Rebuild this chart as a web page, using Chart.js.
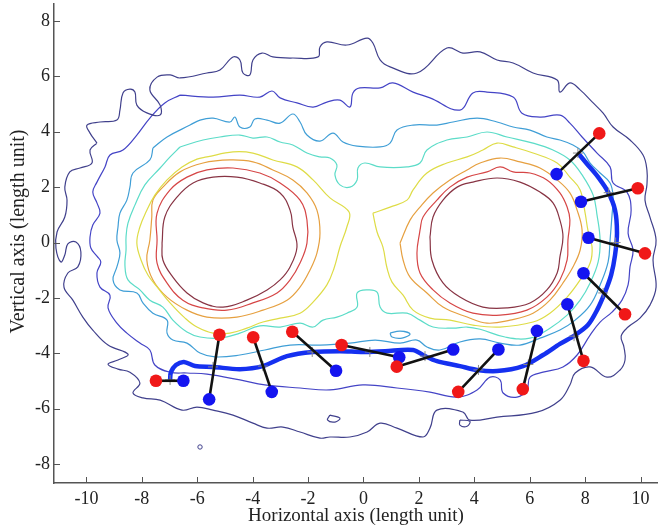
<!DOCTYPE html>
<html>
<head>
<meta charset="utf-8">
<script src="https://cdn.jsdelivr.net/npm/chart.js@4.4.1/dist/chart.umd.min.js"></script>
<style>
  html, body { margin: 0; padding: 0; background: #fff; }
  canvas { display: block; }
</style>
</head>
<body>
<canvas id="chart" width="658" height="529"></canvas>
<script>
const xTicks = [-10, -8, -6, -4, -2, 0, 2, 4, 6, 8, 10]
const yTicks = [-8, -6, -4, -2, 0, 2, 4, 6, 8]

// red / blue dot pairs, same index = joined by a black bar
const redDots = [[-7.49,-4.99],[-5.2,-3.33],[-3.98,-3.42],[-2.57,-3.22],[-0.79,-3.7],[1.2,-4.48],
  [3.42,-5.39],[5.75,-5.29],[7.94,-4.27],[9.44,-2.59],[10.16,-0.39],[9.9,1.96],[8.51,3.94]]
const blueDots = [[-6.5,-4.99],[-5.57,-5.66],[-3.31,-5.39],[-0.99,-4.63],[1.29,-4.14],[3.24,-3.86],
  [4.87,-3.86],[6.26,-3.19],[7.36,-2.23],[7.94,-1.11],[8.12,0.17],[7.85,1.47],[6.97,2.47]]

// thick blue path
const pathPts = [[-6.98,-4.96],[-6.95,-4.68],[-6.77,-4.42],[-6.48,-4.31],[-6.08,-4.46],[-5.43,-4.49],
  [-4.46,-4.57],[-3.63,-4.46],[-2.76,-4.1],[-1.82,-3.95],[-0.85,-3.92],[-0.02,-3.95],[0.78,-3.92],
  [1.79,-3.88],[2.22,-4.1],[2.65,-4.28],[3.48,-4.46],[4.1,-4.6],[4.82,-4.64],[5.76,-4.46],[6.48,-4.06],
  [7.09,-3.66],[7.64,-3.34],[8.1,-2.98],[8.43,-2.44],[8.72,-1.79],[8.94,-1.17],[9.08,-0.45],[9.15,0.34],
  [9.08,1.17],[8.83,1.82],[8.47,2.36],[8.1,2.8],[7.74,3.23]]

// small grey crosses on the path
const crossPts = [[-6.98,-4.96],[-5.43,-4.49],[-3.63,-4.46],[-1.85,-3.95],[0.23,-3.95],[2.22,-4.1],
  [4.15,-4.6],[5.95,-4.4],[7.6,-3.38],[8.65,-1.82],[9.1,0.0],[8.85,1.8],[7.74,3.23]]

// contour levels (outer to inner)
const level1 = [[-9.62,3.59],[-9.87,3.95],[-9.98,4.24],[-9.51,4.35],[-8.9,4.42],[-8.79,4.78],[-8.68,5.4],
  [-8.43,5.54],[-8.25,5.43],[-8.18,4.96],[-7.82,4.68],[-7.34,4.6],[-7.34,4.96],[-7.71,5.51],[-7.45,5.97],
  [-6.98,6.05],[-6.62,5.94],[-5.65,6.12],[-5.18,6.23],[-4.71,6.7],[-4.46,6.59],[-4.35,6.12],[-4.1,6.05],
  [-3.99,6.59],[-3.66,6.84],[-3.27,6.7],[-2.55,6.66],[-1.64,6.7],[-1.57,7.06],[-1.32,7.24],[-0.6,7.13],
  [0.13,7.38],[0.34,7.2],[0.6,6.59],[0.96,6.34],[1.93,6.12],[3.01,7.02],[3.59,6.84],[4.21,6.88],[4.82,6.59],
  [5.4,6.48],[6.12,6.12],[6.99,5.87],[7.09,5.43],[7.45,5.76],[7.82,5.51],[8.29,5.04],[8.65,4.67],[9.01,4.17],
  [9.62,3.7],[10.09,3.16],[10.23,2.62],[10.23,2.08],[10.16,1.53],[10.34,0.92],[10.56,0.09],[10.45,-0.63],
  [10.56,-1.61],[10.34,-2.26],[9.98,-2.73],[9.55,-3.05],[9.3,-3.38],[9.4,-3.77],[9.44,-4.24],[9.26,-4.6],
  [8.79,-4.86],[8.18,-4.49],[7.64,-4.71],[7.45,-5.14],[7.09,-5.69],[6.26,-6.12],[4.82,-6.3],[3.84,-6.41],
  [3.59,-6.12],[2.65,-6.05],[2.4,-6.7],[2.15,-7.02],[1.21,-6.7],[0.6,-6.52],[0.13,-6.84],[-0.49,-7.02],
  [-1.21,-7.02],[-1.57,-7.06],[-2.29,-6.84],[-2.91,-6.66],[-3.48,-6.7],[-3.99,-6.52],[-4.71,-6.23],
  [-5.43,-6.05],[-6.01,-5.94],[-6.55,-6.05],[-7.34,-5.69],[-7.96,-5.61],[-8.32,-5.43],[-8.07,-5.07],
  [-8.43,-4.68],[-8.86,-4.57],[-9.22,-4.39],[-8.86,-4.24],[-8.5,-4.03],[-9.22,-3.7],[-9.77,-3.16],
  [-10.13,-2.69],[-10.49,-2.08],[-10.81,-1.61],[-10.67,-1.1],[-10.31,-0.88],[-10.2,-0.34],[-10.38,0.02],
  [-10.67,-0.05],[-10.78,-0.45],[-10.92,-0.7],[-11.1,-0.2],[-11.06,0.38],[-10.78,0.92],[-10.7,1.53],
  [-10.78,2.0],[-10.6,2.55],[-10.23,2.69],[-9.8,2.87],[-9.87,3.34]]

const level2 = [[-6.62,5.32],[-7.17,5.04],[-7.71,4.49],[-8.18,3.88],[-8.68,3.34],[-9.15,3.16],[-9.33,2.73],
  [-9.62,2.18],[-9.77,1.82],[-9.62,1.43],[-9.51,1.06],[-9.77,0.63],[-9.87,0.2],[-9.84,-0.2],[-9.62,-0.49],
  [-9.48,-0.7],[-9.62,-1.1],[-9.51,-1.61],[-9.15,-1.9],[-9.22,-2.36],[-8.9,-2.91],[-8.54,-3.27],[-8.07,-3.63],
  [-7.71,-3.88],[-7.53,-4.42],[-6.98,-4.68],[-6.37,-4.71],[-5.65,-4.75],[-4.46,-4.96],[-3.56,-5.14],
  [-2.29,-5.25],[-1.21,-5.32],[-0.02,-5.14],[1.21,-5.25],[2.4,-5.4],[3.38,-5.58],[4.1,-5.32],[4.57,-4.86],
  [4.93,-4.96],[5.04,-5.43],[5.54,-5.58],[5.9,-5.32],[6.01,-4.86],[6.48,-4.68],[7.2,-4.49],[7.71,-4.06],
  [8.18,-3.34],[8.54,-2.87],[8.97,-2.51],[9.33,-2.08],[9.55,-1.53],[9.62,-0.88],[9.73,-0.27],[9.55,0.34],
  [9.66,1.17],[9.51,1.82],[9.01,2.15],[8.9,2.73],[8.43,3.23],[7.89,3.81],[7.45,4.31],[7.09,4.6],[6.37,4.53],
  [5.72,4.67],[5.4,5.25],[4.46,5.43],[3.95,5.4],[3.48,4.78],[2.4,5.22],[1.79,5.43],[1.06,5.76],[0.6,5.58],
  [-0.13,5.58],[-0.38,5.4],[-0.49,4.89],[-0.85,5.14],[-1.32,5.07],[-1.82,4.89],[-2.4,5.04],[-3.01,5.22],
  [-3.3,5.47],[-3.74,5.25],[-4.46,5.32],[-5.43,5.25]]

const level3 = [[-7.6,3.41],[-7.09,3.81],[-6.26,4.24],[-5.9,4.42],[-5.43,4.49],[-4.82,4.35],[-4.64,4.53],
  [-4.46,4.17],[-4.1,4.17],[-3.92,4.46],[-3.48,4.42],[-3.01,4.31],[-2.55,4.64],[-2.29,4.35],[-2.04,3.88],
  [-1.57,3.66],[-1.1,3.95],[-0.74,3.63],[-0.23,3.48],[0.6,3.45],[0.96,3.59],[1.21,4.06],[1.79,4.24],
  [2.65,4.24],[3.23,4.35],[4.1,4.49],[4.82,4.35],[5.4,4.17],[6.01,4.06],[6.62,3.81],[7.09,3.7],[7.56,3.52],
  [7.92,3.27],[8.18,2.87],[8.54,2.51],[8.9,2.15],[9.01,1.64],[8.97,0.99],[8.9,0.09],[8.83,-0.7],[8.54,-1.53],
  [8.18,-2.26],[7.64,-2.8],[7.09,-3.16],[6.37,-3.45],[5.65,-3.7],[4.93,-3.63],[4.21,-3.48],[3.48,-3.59],
  [2.76,-3.88],[2.29,-3.77],[1.93,-3.52],[1.32,-3.63],[0.42,-3.52],[-0.49,-3.63],[-1.57,-3.7],[-2.65,-3.7],
  [-3.56,-3.88],[-4.46,-4.06],[-5.36,-4.13],[-5.9,-3.99],[-6.37,-3.63],[-6.88,-3.52],[-7.09,-3.27],
  [-7.09,-2.8],[-7.6,-2.55],[-7.96,-2.18],[-8.18,-1.82],[-8.79,-1.71],[-9.04,-1.35],[-8.9,-0.88],
  [-8.79,-0.38],[-8.9,0.09],[-8.86,0.56],[-8.79,1.06],[-8.54,1.53],[-8.43,2.0],[-8.32,2.51],[-7.71,2.98]]

const level4 = [[-6.62,3.45],[-5.79,3.7],[-5.18,3.81],[-4.46,3.88],[-3.99,3.77],[-3.48,3.81],[-3.01,3.63],
  [-2.55,3.52],[-2.04,3.23],[-1.57,3.09],[-1.21,3.05],[-0.96,2.8],[-1.03,2.44],[-0.85,2.08],[-0.49,2.0],
  [-0.23,2.26],[-0.2,2.69],[0.05,2.87],[0.6,2.73],[1.57,2.73],[2.04,2.87],[2.29,3.34],[3.01,3.7],[3.74,3.81],
  [4.46,3.99],[5.18,3.81],[6.12,3.59],[6.84,3.34],[7.45,2.98],[7.89,2.44],[8.29,1.71],[8.43,0.99],[8.54,0.09],
  [8.47,-0.7],[8.18,-1.46],[7.82,-2.08],[7.35,-2.62],[6.73,-3.09],[6.01,-3.45],[5.11,-3.41],[4.21,-3.13],
  [3.74,-3.05],[3.23,-3.09],[2.51,-3.05],[2.04,-2.8],[1.57,-2.55],[0.85,-2.55],[0.6,-2.33],[0.49,-1.79],
  [0.13,-1.71],[-0.23,-1.82],[-0.23,-2.33],[-0.6,-2.55],[-0.96,-2.69],[-1.46,-2.8],[-1.82,-3.05],
  [-2.29,-2.91],[-3.01,-3.05],[-3.74,-3.01],[-4.46,-3.27],[-5.18,-3.45],[-5.9,-3.41],[-6.37,-3.23],
  [-6.88,-2.8],[-7.24,-2.33],[-7.71,-2.08],[-8.07,-1.71],[-8.5,-1.35],[-8.61,-0.81],[-8.57,-0.27],
  [-8.57,0.2],[-8.5,0.7],[-8.25,1.35],[-7.89,2.08],[-7.34,2.69],[-6.98,3.09]]

const level5Left = [[-5.65,3.09],[-4.71,3.27],[-3.99,3.23],[-3.27,2.98],[-2.4,2.73],[-1.82,2.26],[-1.21,1.61],
  [-0.52,1.1],[-0.6,0.56],[-0.85,-0.16],[-1.06,-0.92],[-1.32,-1.53],[-1.82,-2.15],[-2.29,-2.55],[-3.01,-2.73],
  [-3.63,-2.87],[-4.21,-3.09],[-4.82,-3.27],[-5.43,-3.27],[-6.01,-3.05],[-6.44,-2.73],[-6.98,-2.18],
  [-7.42,-1.64],[-7.78,-1.17],[-8.03,-0.63],[-8.18,-0.02],[-8.07,0.56],[-7.85,1.1],[-7.53,1.71],[-7.09,2.26],
  [-6.55,2.73],[-6.01,3.01]]
const level5Right = [[0.34,1.06],[0.96,1.28],[1.57,1.53],[1.79,1.9],[2.29,2.51],[3.01,2.87],[3.74,3.09],
  [4.31,3.34],[4.82,3.59],[5.4,3.45],[6.12,3.23],[6.99,2.87],[7.45,2.36],[7.82,1.9],[8.0,1.06],[8.1,0.45],
  [8.25,-0.16],[8.18,-0.74],[7.82,-1.35],[7.35,-1.97],[6.73,-2.55],[6.12,-2.87],[4.93,-3.05],[3.95,-2.98],
  [3.12,-2.8],[2.4,-2.73],[1.79,-2.44],[1.43,-1.9],[1.03,-1.43],[0.85,-0.92],[0.7,-0.16],[0.49,0.38]]

const level6Left = [[-7.64,0.92],[-7.6,1.53],[-7.24,2.0],[-6.62,2.55],[-5.79,2.87],[-4.82,2.98],[-3.99,2.91],
  [-3.27,2.62],[-2.55,2.26],[-2.04,1.79],[-1.68,1.17],[-1.57,0.34],[-1.68,-0.38],[-1.93,-0.99],[-2.29,-1.61],
  [-2.76,-2.08],[-3.63,-2.44],[-4.57,-2.69],[-5.65,-2.69],[-6.37,-2.44],[-7.09,-1.97],[-7.6,-1.35],
  [-7.82,-0.63],[-7.71,0.09]]
const level6Right = [[1.32,-0.02],[1.68,0.81],[2.04,1.28],[2.51,1.79],[3.12,2.26],[3.74,2.62],[4.21,2.87],
  [4.93,3.05],[5.65,2.91],[6.37,2.69],[6.99,2.26],[7.45,1.79],[7.71,1.17],[7.89,0.45],[7.82,-0.27],
  [7.56,-0.88],[7.2,-1.46],[6.73,-2.08],[6.12,-2.55],[5.29,-2.8],[4.46,-2.91],[3.74,-2.69],[2.87,-2.33],
  [2.29,-1.82],[1.68,-1.25],[1.43,-0.63]]

const level7Left = [[-7.45,0.09],[-7.45,1.06],[-6.98,1.9],[-6.37,2.36],[-5.65,2.62],[-4.71,2.69],[-3.74,2.51],
  [-3.01,2.15],[-2.29,1.53],[-2.04,0.81],[-2.04,-0.02],[-2.29,-0.74],[-2.65,-1.35],[-3.12,-1.82],
  [-3.99,-2.18],[-4.93,-2.44],[-5.79,-2.36],[-6.52,-2.08],[-7.09,-1.46],[-7.45,-0.74]]
const level7Right = [[2.04,0.45],[2.15,0.92],[2.65,1.53],[3.12,2.0],[3.74,2.36],[4.46,2.55],[4.93,2.73],
  [5.4,2.55],[6.01,2.51],[6.62,2.26],[7.09,1.79],[7.35,1.28],[7.45,0.81],[7.38,0.09],[7.35,-0.63],
  [7.09,-1.35],[6.62,-1.97],[5.9,-2.44],[4.93,-2.62],[3.95,-2.55],[3.12,-2.18],[2.51,-1.71],[2.04,-1.1],
  [1.93,-0.38]]

const level8Left = [[-7.27,-0.02],[-7.17,0.92],[-6.73,1.64],[-6.15,2.15],[-5.43,2.36],[-4.57,2.36],
  [-3.74,2.15],[-3.01,1.79],[-2.65,1.17],[-2.55,0.56],[-2.4,-0.16],[-2.65,-0.88],[-3.01,-1.35],
  [-3.48,-1.71],[-4.21,-2.08],[-5.07,-2.33],[-5.79,-2.18],[-6.37,-1.82],[-6.88,-1.25],[-7.24,-0.63]]
const level8Right = [[2.4,0.2],[2.51,0.92],[2.87,1.53],[3.38,2.0],[3.95,2.18],[4.82,2.33],[5.65,2.18],
  [6.37,1.82],[6.84,1.43],[7.09,0.81],[7.2,0.2],[7.09,-0.52],[6.99,-1.1],[6.62,-1.71],[6.01,-2.18],
  [5.18,-2.36],[4.31,-2.33],[3.48,-1.97],[2.87,-1.46],[2.47,-0.63]]

const smallBlueLoop = [[0.96,-3.27],[1.32,-3.2],[1.68,-3.3],[1.39,-3.45],[1.03,-3.41]]
const smallNavyLoopA = [[3.48,-6.41],[3.84,-6.45],[3.74,-6.63],[3.48,-6.59]]
const smallNavyLoopB = [[-1.21,-6.23],[-0.85,-6.34],[-1.03,-6.48],[-1.3,-6.4]]
const tinyRing = [[-5.9,-7.38]]

const NAVY = '#40408c'
const BLUE2 = '#4444c6'
const LIGHTBLUE = '#3f9ed6'
const TURQ = '#5cdcc8'
const YELLOW = '#dedc46'
const ORANGE = '#e6a040'
const RED = '#d64646'
const MAROON = '#883444'

function to_xy(list) {
  return list.map(p => ({x: p[0], y: p[1]}))
}

function contour_ds(list, color) {
  const pts = to_xy(list)
  pts.push({x: list[0][0], y: list[0][1]}) // close the loop
  return {
    data: pts, showLine: true, borderColor: color, borderWidth: 1.2,
    pointRadius: 0, tension: 0.4, fill: false, order: 5
  }
}

const datasets = [
  contour_ds(level1, NAVY),
  contour_ds(smallNavyLoopA, NAVY),
  contour_ds(smallNavyLoopB, NAVY),
  contour_ds(level2, BLUE2),
  contour_ds(level3, LIGHTBLUE),
  contour_ds(smallBlueLoop, LIGHTBLUE),
  contour_ds(level4, TURQ),
  contour_ds(level5Left, YELLOW),
  contour_ds(level5Right, YELLOW),
  contour_ds(level6Left, ORANGE),
  contour_ds(level6Right, ORANGE),
  contour_ds(level7Left, RED),
  contour_ds(level7Right, RED),
  contour_ds(level8Left, MAROON),
  contour_ds(level8Right, MAROON),
  {
    data: to_xy(tinyRing), pointRadius: 2.2, pointBorderColor: NAVY, pointBackgroundColor: 'rgba(0,0,0,0)',
    pointBorderWidth: 1, showLine: false, order: 5
  },
  {
    data: to_xy(pathPts), showLine: true, borderColor: '#1530f0', borderWidth: 4.5,
    pointRadius: 0, tension: 0.3, order: 3
  },
  {
    data: to_xy(crossPts), showLine: false, pointStyle: 'cross', pointRadius: 5,
    pointBorderColor: '#8a8a8a', pointBorderWidth: 1, order: 2
  }
]

// black bars joining each pair
redDots.forEach((r, i) => {
  const b = blueDots[i]
  datasets.push({
    data: [{x: r[0], y: r[1]}, {x: b[0], y: b[1]}], showLine: true,
    borderColor: '#111', borderWidth: 2.6, pointRadius: 0, order: 1
  })
})

datasets.push({
  data: to_xy(redDots), showLine: false, pointRadius: 6.3,
  pointBackgroundColor: '#f01818', pointBorderColor: '#f01818', pointBorderWidth: 0, order: 0
})
datasets.push({
  data: to_xy(blueDots), showLine: false, pointRadius: 6.3,
  pointBackgroundColor: '#1414f0', pointBorderColor: '#1414f0', pointBorderWidth: 0, order: 0
})

// tick marks pointing into the plot
const inner_ticks = {
  id: 'inner_ticks',
  afterDraw(chart) {
    const ctx = chart.ctx
    const xs = chart.scales.x
    const ys = chart.scales.y
    const area = chart.chartArea
    ctx.save()
    ctx.strokeStyle = '#555'
    ctx.lineWidth = 1
    xTicks.forEach(v => {
      const px = Math.round(xs.getPixelForValue(v)) + 0.5
      ctx.beginPath()
      ctx.moveTo(px, area.bottom)
      ctx.lineTo(px, area.bottom - 6)
      ctx.stroke()
    })
    yTicks.forEach(v => {
      const py = Math.round(ys.getPixelForValue(v)) + 0.5
      ctx.beginPath()
      ctx.moveTo(area.left, py)
      ctx.lineTo(area.left + 6, py)
      ctx.stroke()
    })
    ctx.restore()
  }
}

// no extra room for edge labels: the plot runs right to the edges
function no_edge_padding(axis) {
  axis.paddingLeft = 0
  axis.paddingRight = 0
  axis.paddingTop = 0
  axis.paddingBottom = 0
}

const serif = 'Liberation Serif'

new Chart(document.getElementById('chart'), {
  type: 'scatter',
  data: { datasets: datasets },
  options: {
    responsive: false,
    animation: false,
    layout: { autoPadding: false, padding: { top: 4, right: 0, left: 0, bottom: 0 } },
    plugins: { legend: { display: false }, tooltip: { enabled: false } },
    scales: {
      x: {
        type: 'linear', min: -11.17, max: 10.63,
        afterBuildTicks: axis => { axis.ticks = xTicks.map(v => ({value: v})) },
        afterFit: axis => { axis.height = 46; no_edge_padding(axis) },
        grid: { display: false, drawTicks: false },
        border: { display: true, color: '#555', width: 1.5 },
        ticks: { font: { family: serif, size: 18 }, color: '#222', padding: 5, maxRotation: 0 },
        title: {
          display: true, text: 'Horizontal axis (length unit)',
          font: { family: serif, size: 19 }, color: '#222', padding: { top: 0, bottom: 2 }
        }
      },
      y: {
        type: 'linear', min: -8.68, max: 8.61,
        afterBuildTicks: axis => { axis.ticks = yTicks.map(v => ({value: v})) },
        afterFit: axis => { axis.width = 54; no_edge_padding(axis) },
        grid: { display: false, drawTicks: false },
        border: { display: true, color: '#555', width: 1.5 },
        ticks: { font: { family: serif, size: 18 }, color: '#222', padding: 4 },
        title: {
          display: true, text: '\u2002\u2002\u2009Vertical axis (length unit)',
          font: { family: serif, size: 20 }, color: '#222', padding: { top: 7, bottom: 0 }
        }
      }
    }
  },
  plugins: [inner_ticks]
})
</script>
</body>
</html>
